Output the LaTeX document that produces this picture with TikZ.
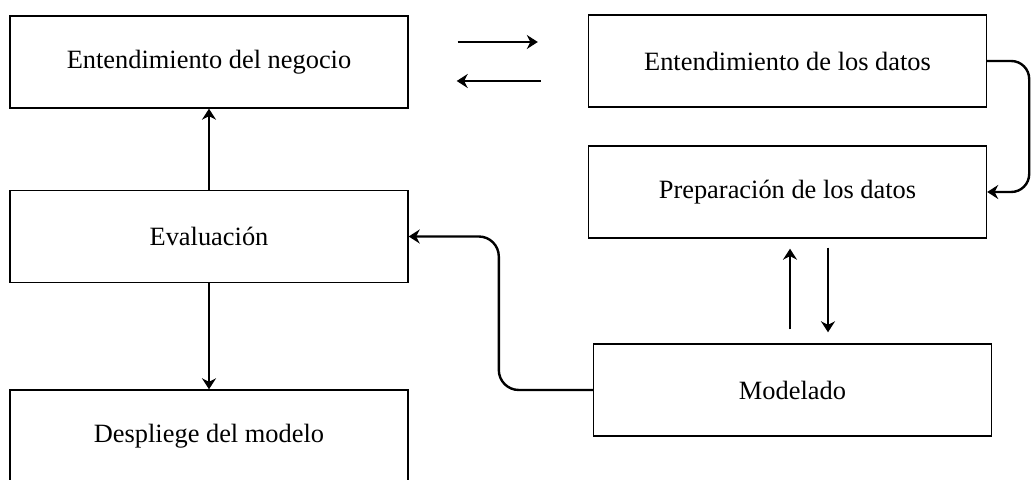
\documentclass[tikz,border=0pt]{standalone}
\usepackage{fontspec}
\setmainfont{Liberation Serif}
\usetikzlibrary{arrows.meta}
\tikzset{
  fase/.style={draw, line width=0.7pt, minimum width=199pt, minimum height=46pt,
    inner sep=0pt, font=\fontsize{13.2}{16}\selectfont},
  flecha/.style={-{Stealth[length=5.5pt,width=7pt,inset=1.8pt]}, line width=1.2pt}
}
\begin{document}
\begin{tikzpicture}[x=0.5pt, y=-0.5pt]
      \useasboundingbox (0,0) rectangle (1033,480);
      \draw
        (209,62) node[fase] (negocio){Entendimiento del negocio}
        (787.5,61) node[fase] (datos){Entendimiento de los datos}
        (787.5,192) node[fase] (prep){Preparación de los datos}
        (209,236.5) node[fase] (eval){Evaluación}
        (792.5,390) node[fase] (model){Modelado}
        (209,436) node[fase] (despl){Despliege del modelo};
      \begin{scope}[flecha]
        \draw ([xshift=24.5pt,yshift=10pt]negocio.east) -- ([xshift=-25pt,yshift=9.5pt]datos.west);
        \draw ([xshift=-23.5pt,yshift=-10pt]datos.west) -- ([xshift=24pt,yshift=-9.5pt]negocio.east);
        \draw (eval) -- (negocio);
        \draw (eval) -- (despl);
        \draw[rounded corners=9pt] (datos.east) -- ++(42,0) |- (prep.east);
        \draw ([xshift=-1.25pt,yshift=7pt]model.north) -- ([xshift=1.25pt,yshift=-5pt]prep.south);
        \draw ([xshift=20.25pt,yshift=-4.5pt]prep.south) -- ([xshift=17.75pt,yshift=5.5pt]model.north);
        \draw[rounded corners=10pt] (model.west) -- ++(-94,0) |- (eval.east);
      \end{scope}
    \end{tikzpicture}
\end{document}
